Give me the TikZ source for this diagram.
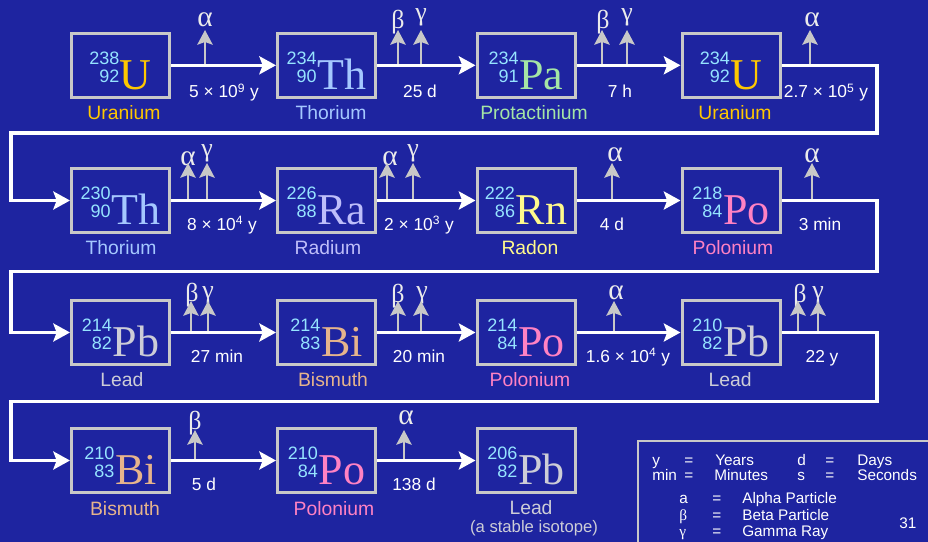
\documentclass[tikz,border=0pt]{standalone}
\usepackage{fontspec}
\setmainfont{Liberation Sans}
\newfontfamily\elemfont{Liberation Serif}
\usetikzlibrary{arrows.meta}

\definecolor{bgblue}{RGB}{30,36,160}
\definecolor{frame}{RGB}{200,200,200}
\definecolor{nucnum}{RGB}{150,228,255}
\definecolor{greekc}{RGB}{235,235,235}
\definecolor{cU}{RGB}{255,200,0}
\definecolor{cTh}{RGB}{165,200,255}
\definecolor{cPa}{RGB}{165,230,165}
\definecolor{cRa}{RGB}{190,190,250}
\definecolor{cRn}{RGB}{255,250,140}
\definecolor{cPo}{RGB}{255,130,195}
\definecolor{cPb}{RGB}{205,205,215}
\definecolor{cBi}{RGB}{230,180,140}

% mass / atomic number stacked, then the symbol
\newcommand{\nuc}[4]{%
  \raisebox{5.25pt}{\fontsize{13.5}{12.75}\selectfont\color{nucnum}%
    \begin{tabular}[b]{@{}r@{}}#1\\#2\end{tabular}}%
  \hspace{0.5pt}{\elemfont\fontsize{33}{33}\selectfont\color{#4}#3}}
\newcommand{\alp}{{\fontsize{22}{22}\selectfont α}}

\begin{document}
\begin{tikzpicture}[
        x=0.75pt, y=-0.75pt,
        nucbox/.style={rectangle, draw=frame, line width=2.25pt, inner sep=0pt,
                       minimum width=73.5pt, text height=42pt, text depth=6pt},
        elname/.style={anchor=base, inner sep=0pt, font=\fontsize{14.5}{14.5}\selectfont},
        life/.style  ={anchor=base, inner sep=0pt, text=white, font=\fontsize{13}{13}\selectfont},
        greek/.style ={anchor=base, inner sep=0pt, text=greekc,
                       font=\elemfont\fontsize{19.5}{19.5}\selectfont},
        flow/.style  ={-{Stealth[length=12.5pt, width=13.5pt, inset=2.5pt]},
                       draw=white, line width=2.5pt},
        ray/.style   ={-{Stealth[length=11pt, width=11.5pt, inset=2pt]},
                       draw=frame, line width=1.7pt},
        keybox/.style={rectangle, draw=frame, line width=1.5pt, inner sep=0pt,
                       minimum width=240pt, minimum height=95pt},
        keytext/.style={anchor=base west, inner sep=0pt, text=white,
                       font=\fontsize{11.5}{11.5}\selectfont},
    ]
        \useasboundingbox (0,0) rectangle (928,542);
        \clip (0,0) rectangle (928,542);
        \fill[bgblue] (0,0) rectangle (928,542);

        % ===================== Row 1 =====================
        \node[nucbox] (u238)  at (120.5,65.3) {\nuc{238}{92}{U}{cU}};
        \node[nucbox] (th234) at (326.5,65.3) {\nuc{234}{90}{Th}{cTh}};
        \node[nucbox] (pa234) at (526,65.3)   {\nuc{234}{91}{Pa}{cPa}};
        \node[nucbox] (u234)  at (731,65.3)   {\nuc{234}{92}{U}{cU}};

        \node[elname, text=cU]  (n1) at (124,119) {Uranium};
        \node[elname, text=cTh] (n2) at (331,119) {Thorium};
        \node[elname, text=cPa] (n3) at (534,119) {Protactinium};
        \node[elname, text=cU]  (n4) at (735,119) {Uranium};

        \node[life] (hl1) at (224,98) {5 × 10\textsuperscript{9} y};
        \node[life] (hl2) at (420,98) {25 d};
        \node[life] (hl3) at (620,98) {7 h};
        \node[life] (hl4) at (826,98) {2.7 × 10\textsuperscript{5} y};

        % ===================== Row 2 =====================
        \node[nucbox] (th230) at (120.5,200.5) {\nuc{230}{90}{Th}{cTh}};
        \node[nucbox] (ra226) at (326.5,200.5) {\nuc{226}{88}{Ra}{cRa}};
        \node[nucbox] (rn222) at (526,200.5)   {\nuc{222}{86}{Rn}{cRn}};
        \node[nucbox] (po218) at (731,200.5)   {\nuc{218}{84}{Po}{cPo}};

        \node[elname, text=cTh] (n5) at (121,254) {Thorium};
        \node[elname, text=cRa] (n6) at (328,254) {Radium};
        \node[elname, text=cRn] (n7) at (530,254) {Radon};
        \node[elname, text=cPo] (n8) at (733,254) {Polonium};

        \node[life] (hl5) at (222,230) {8 × 10\textsuperscript{4} y};
        \node[life] (hl6) at (419,230) {2 × 10\textsuperscript{3} y};
        \node[life] (hl7) at (612,230) {4 d};
        \node[life] (hl8) at (820,230) {3 min};

        % ===================== Row 3 =====================
        \node[nucbox] (pb214) at (120.5,332.5) {\nuc{214}{82}{Pb}{cPb}};
        \node[nucbox] (bi214) at (326.5,332.5) {\nuc{214}{83}{Bi}{cBi}};
        \node[nucbox] (po214) at (526,332.5)   {\nuc{214}{84}{Po}{cPo}};
        \node[nucbox] (pb210) at (731,332.5)   {\nuc{210}{82}{Pb}{cPb}};

        \node[elname, text=cPb] (n9)  at (122,386) {Lead};
        \node[elname, text=cBi] (n10) at (333,386) {Bismuth};
        \node[elname, text=cPo] (n11) at (530,386) {Polonium};
        \node[elname, text=cPb] (n12) at (730,386) {Lead};

        \node[life] (hl9)  at (217,362) {27 min};
        \node[life] (hl10) at (419,362) {20 min};
        \node[life] (hl11) at (628,362) {1.6 × 10\textsuperscript{4} y};
        \node[life] (hl12) at (822,362) {22 y};

        % ===================== Row 4 =====================
        \node[nucbox] (bi210) at (120.5,460.5) {\nuc{210}{83}{Bi}{cBi}};
        \node[nucbox] (po210) at (326.5,460.5) {\nuc{210}{84}{Po}{cPo}};
        \node[nucbox] (pb206) at (526,460.5)   {\nuc{206}{82}{Pb}{cPb}};

        \node[elname, text=cBi] (n13) at (125,515) {Bismuth};
        \node[elname, text=cPo] (n14) at (334,515) {Polonium};
        \node[elname, text=cPb, text depth=0pt] (n15) at (531,514) {Lead};
        \node[elname, text=cPb, font=\fontsize{12.5}{12.5}\selectfont] (n16) at (534,532) {(a stable isotope)};

        \node[life] (hl13) at (204,490) {5 d};
        \node[life] (hl14) at (414,490) {138 d};

        % ===================== Emitted particles =====================
        \foreach \n/\x/\y/\t/\s/\lx/\ly in {
            e1/205/65/30/\alp/205/27, e2/398/65/30/β/398/29, e3/421/65/30/γ/421/21,
            e4/602/65/30/β/603/29, e5/627/65/30/γ/627/21, e6/810/65/30/\alp/812/27,
            e7/188/200/163/\alp/188/165, e8/207/200/163/γ/207/156,
            e9/387/200/163/\alp/390/165, e10/413/200/163/γ/413/156,
            e11/612/200/163/\alp/615/161, e12/812/200/163/\alp/812/162,
            e13/191/333/301/β/192/301, e14/208/333/301/γ/208/298,
            e15/398/333/301/β/398/302, e16/421/333/301/γ/422/298,
            e17/614/333/301/\alp/616/299,
            e18/798/333/301/β/800/302, e19/818/333/301/γ/818/298,
            e20/195/460/430/β/195/429, e21/404/460/430/\alp/406/424} {
            \node[greek] (g\n) at (\lx,\ly) {\s};
            \coordinate (b\n) at (\x,\y);
            \coordinate (t\n) at (\x,\t);
            \draw[ray] (b\n) -- (t\n);
        }

        % ===================== Decay chain =====================
        \coordinate (w1a) at (877,133);   \coordinate (w1b) at (11,133);
        \coordinate (w2a) at (877,271.5); \coordinate (w2b) at (11,271.5);
        \coordinate (w3a) at (877,401.5); \coordinate (w3b) at (11,401.5);

        \draw[flow] (u238) -- (th234);
        \draw[flow] (th234) -- (pa234);
        \draw[flow] (pa234) -- (u234);
        \draw[flow] (u234) -| (w1a) -- (w1b) |- (th230);
        \draw[flow] (th230) -- (ra226);
        \draw[flow] (ra226) -- (rn222);
        \draw[flow] (rn222) -- (po218);
        \draw[flow] (po218) -| (w2a) -- (w2b) |- (pb214);
        \draw[flow] (pb214) -- (bi214);
        \draw[flow] (bi214) -- (po214);
        \draw[flow] (po214) -- (pb210);
        \draw[flow] (pb210) -| (w3a) -- (w3b) |- (bi210);
        \draw[flow] (bi210) -- (po210);
        \draw[flow] (po210) -- (pb206);

        % ===================== Key =====================
        \node[keybox, anchor=north west] (key) at (637,440) {};
        \foreach \n/\x/\y/\t in {
            k1/652/465/y, k2/684/465/=, k3/715/465/Years,
            k4/797/465/d, k5/825/465/=, k6/857/465/Days,
            k7/652/480/min, k8/684/480/=, k9/714/480/Minutes,
            k10/797/480/s, k11/825/480/=, k12/857/480/Seconds,
            k13/679/503/a, k14/712/503/=, k15/742/503/Alpha Particle,
            k16/679/520/{\elemfont β}, k17/712/520/=, k18/742/520/Beta Particle,
            k19/679/536/{\elemfont γ}, k20/712/536/=, k21/742/536/Gamma Ray,
            k22/899/528/31} {
            \node[keytext] (\n) at (\x,\y) {\t};
        }
\end{tikzpicture}
\end{document}
